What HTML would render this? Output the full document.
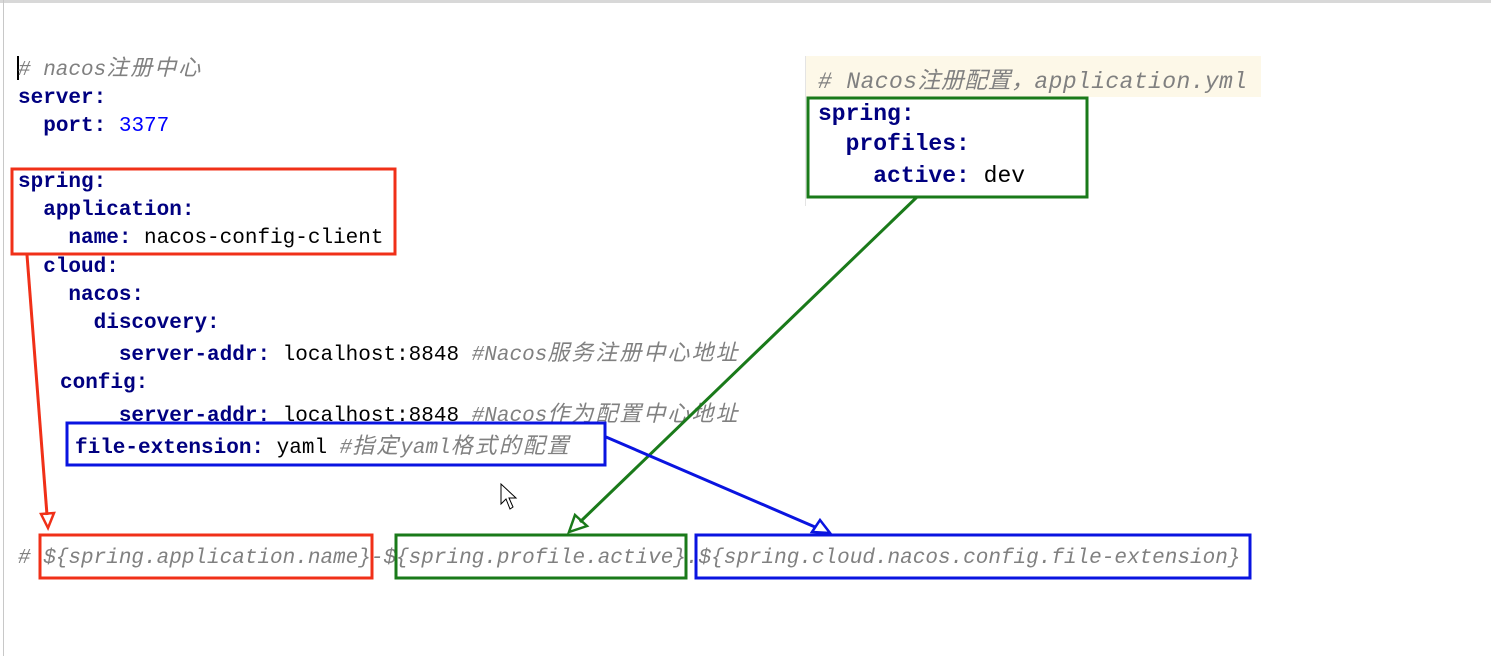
<!DOCTYPE html>
<html><head><meta charset="utf-8"><style>
body{margin:0;width:1491px;height:656px;background:#fff;position:relative;overflow:hidden;font-family:"Liberation Mono","Noto Sans CJK SC",monospace;}
.l{position:absolute;font-size:21px;line-height:28px;white-space:pre;color:#000;}
.k{color:#000080;font-weight:bold;}
.n{color:#0000ff;}
.c{color:#808080;font-style:italic;}
.z{font-size:22px;letter-spacing:2px;}
.r{position:absolute;font-size:23px;line-height:30px;white-space:pre;}
</style></head><body>
<div style="position:absolute;left:0;top:0;width:1491px;height:3px;background:#d8d8d8"></div>
<div style="position:absolute;left:3px;top:0;width:1px;height:656px;background:#c8c8c8"></div>
<div style="position:absolute;left:805px;top:56px;width:456px;height:41px;background:#fdf8e8"></div>
<div style="position:absolute;left:805px;top:56px;width:1px;height:150px;background:#e4e4e4"></div>
<div style="position:absolute;left:17px;top:56px;width:2px;height:24px;background:#000"></div>

<div class="l c" style="left:18px;top:56px"># nacos<span class="z">注册中心</span></div>
<div class="l" style="left:18px;top:85px"><span class="k">server:</span></div>
<div class="l" style="left:18px;top:113px">  <span class="k">port:</span> <span class="n">3377</span></div>
<div class="l" style="left:18px;top:169px"><span class="k">spring:</span></div>
<div class="l" style="left:18px;top:197px">  <span class="k">application:</span></div>
<div class="l" style="left:18px;top:225px">    <span class="k">name:</span> nacos-config-client</div>
<div class="l" style="left:18px;top:254px">  <span class="k">cloud:</span></div>
<div class="l" style="left:18px;top:282px">    <span class="k">nacos:</span></div>
<div class="l" style="left:18px;top:310px">      <span class="k">discovery:</span></div>
<div class="l" style="left:18px;top:341px">        <span class="k">server-addr:</span> localhost:8848 <span class="c">#Nacos<span class="z">服务注册中心地址</span></span></div>
<div class="l" style="left:60px;top:370px"><span class="k">config:</span></div>
<div class="l" style="left:18px;top:402px">        <span class="k">server-addr:</span> localhost:8848 <span class="c">#Nacos<span class="z">作为配置中心地址</span></span></div>
<div class="l" style="left:75px;top:434px;background:#fff"><span class="k">file-extension:</span> yaml <span class="c">#<span class="z">指定</span>yaml<span class="z">格式的配置</span></span></div>

<div class="r c" style="left:818px;top:67px;letter-spacing:0.4px"># Nacos注册配置，application.yml</div>
<div class="r" style="left:818px;top:99px"><span class="k">spring:</span></div>
<div class="r" style="left:818px;top:129px">  <span class="k">profiles:</span></div>
<div class="r" style="left:818px;top:161px">    <span class="k">active:</span> dev</div>

<div class="l c" style="left:18px;top:545px"># ${spring.application.name}-${spring.profile.active}.${spring.cloud.nacos.config.file-extension}</div>

<svg width="1491" height="656" style="position:absolute;left:0;top:0">
<g fill="none" stroke-width="3">
<rect x="12" y="169" width="383" height="85" stroke="#f03018"/>
<rect x="67" y="423" width="538" height="42" stroke="#0a14e0"/>
<rect x="808" y="98" width="279" height="99" stroke="#1a7a1a"/>
<rect x="40" y="535" width="332" height="43" stroke="#f03018"/>
<rect x="396" y="535" width="290" height="43" stroke="#1a7a1a"/>
<rect x="696" y="535" width="554" height="43" stroke="#0a14e0"/>
<line x1="27" y1="255" x2="47" y2="515" stroke="#f03018"/>
<polygon points="41,514 54,513 48,528" stroke="#f03018" stroke-width="2.5"/>
<line x1="917" y1="197" x2="580" y2="522" stroke="#1a7a1a"/>
<polygon points="575,515 587,526 569,532" stroke="#1a7a1a" stroke-width="2.5"/>
<line x1="606" y1="437" x2="815" y2="527" stroke="#0a14e0"/>
<polygon points="812,532 820,520 830,533" stroke="#0a14e0" stroke-width="2.5"/>
</g>
<path d="M501,484 L501,504 L506,499 L510,509 L513,507 L509,498 L516,498 Z" fill="#fff" stroke="#000" stroke-width="1"/>
</svg>
</body></html>
